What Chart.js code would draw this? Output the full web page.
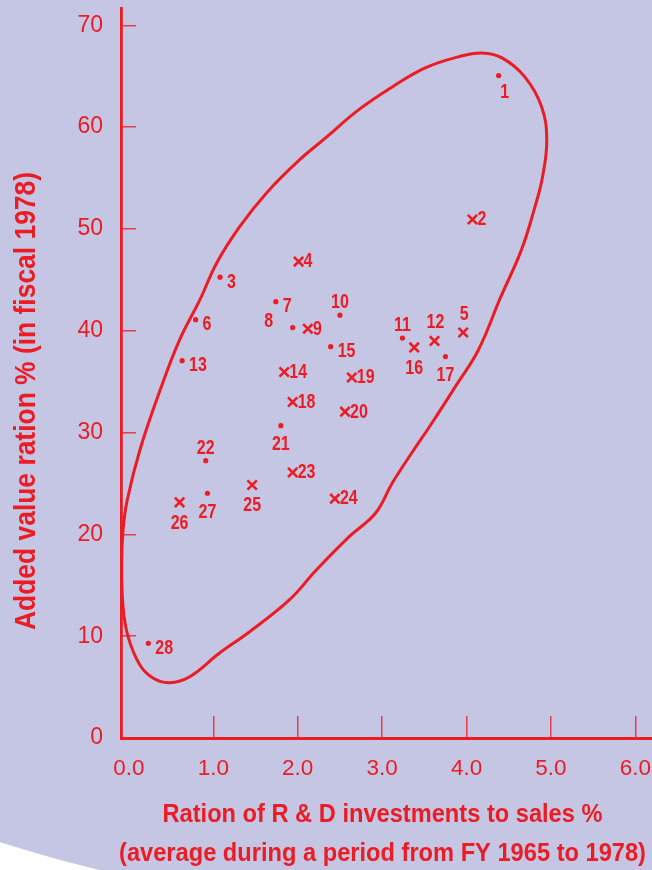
<!DOCTYPE html>
<html>
<head>
<meta charset="utf-8">
<script src="https://cdn.jsdelivr.net/npm/chart.js@4.4.1/dist/chart.umd.min.js"></script>
<style>
  html, body { margin: 0; padding: 0; width: 652px; height: 870px; overflow: hidden; }
  body {
    background: radial-gradient(circle 1402px at 428px -493px, #c5c6e3 0, #c5c6e3 1401.5px, #ffffff 1402.5px);
  }
  canvas { display: block; }
</style>
</head>
<body>
<canvas id="c" width="652" height="870"></canvas>
<script>
// ---------------- data ----------------
const X_TICKS = [0, 1, 2, 3, 4, 5, 6];
const X_TICK_LABELS = ['0.0', '1.0', '2.0', '3.0', '4.0', '5.0', '6.0'];
const Y_TICKS = [0, 10, 20, 30, 40, 50, 60, 70];
const Y_TICK_LABELS = ['0', '10', '20', '30', '40', '50', '60', '70'];

const X_TITLE = ['Ration of R & D investments to sales %', '(average during a period from FY 1965 to 1978)'];
const Y_TITLE = 'Added value ration % (in fiscal 1978)';

// companies marked with a dot
const DOT_LABELS = ['1', '3', '6', '7', '8', '10', '11', '13', '15', '17', '21', '22', '27', '28'];
const DOT_X = [4.38, 1.08, 0.79, 1.74, 1.94, 2.50, 3.24, 0.63, 2.39, 3.75, 1.80, 0.91, 0.93, 0.23];
const DOT_Y = [65.06, 45.26, 41.09, 42.86, 40.31, 41.53, 39.29, 37.06, 38.44, 37.46, 30.68, 27.24, 24.04, 9.30];

// companies marked with an x
const XM_LABELS = ['2', '4', '5', '9', '12', '14', '16', '18', '19', '20', '23', '24', '25', '26'];
const XM_X = [4.07, 2.01, 3.96, 2.12, 3.62, 1.84, 3.38, 1.94, 2.64, 2.56, 1.94, 2.44, 1.46, 0.60];
const XM_Y = [50.93, 46.79, 39.83, 40.20, 39.00, 35.95, 38.36, 33.00, 35.41, 32.05, 26.08, 23.51, 24.85, 23.15];

// enclosing loop (closed curve)
const LOOP_X = [4.18, 4.42, 4.69, 4.89, 4.95, 4.90, 4.81, 4.65, 4.40, 4.14, 3.88, 3.59, 3.35, 3.12,
                2.92, 2.61, 2.22, 1.90, 1.43, 1.07, 0.72, 0.48, 0.29, 0.13, -0.01, -0.07, -0.086, -0.07,
                -0.02, 0.13, 0.37, 0.60, 0.84, 1.04, 1.31, 1.63, 2.02, 2.33, 2.72, 3.12, 3.51, 3.90];
const LOOP_Y = [67.29, 66.80, 64.93, 61.98, 58.74, 55.11, 52.16, 47.94, 43.22, 38.11, 34.68, 30.94, 27.99, 25.05,
                22.07, 19.78, 16.50, 13.56, 10.44, 8.32, 6.02, 5.43, 5.86, 7.17, 9.95, 12.90, 17.16, 20.43,
                23.38, 28.29, 34.18, 39.10, 43.03, 46.66, 50.20, 53.54, 56.78, 58.94, 61.69, 63.95, 65.82, 66.90];

// label placement codes (style only)
const DOT_SIDE = ['br', 'r', 'r', 'r', 'lt', 't', 't', 'r', 'r', 'b', 'b', 't', 'b', 'r'];
const XM_SIDE = ['n', 'n', 't', 'n', 't', 'n', 'b', 'n', 'n', 'n', 'n', 'n', 'b', 'b'];

// ---------------- style ----------------
const RED = '#ec1c24';
const TICK_COLOR = 'rgba(236,28,36,0.8)';
const FONT = "'Liberation Sans', Arial, sans-serif";
const LABEL_SIZE = 20.5;
const LABEL_SQUEEZE = 0.78;

const DOT_OFFSETS = {
  r:  { dx: 7,   dy: 3,    align: 'left' },
  t:  { dx: 0,   dy: -14.5, align: 'center' },
  b:  { dx: 0,   dy: 17,   align: 'center' },
  br: { dx: 6,   dy: 15,   align: 'center' },
  lt: { dx: -24, dy: -8,   align: 'center' }
};
const XM_OFFSETS = {
  n: { dx: 5, dy: -1.5, align: 'left' },
  t: { dx: 1, dy: -20,  align: 'center' },
  b: { dx: 0, dy: 19,   align: 'center' }
};

const pts = (xs, ys) => xs.map((x, i) => ({ x: x, y: ys[i] }));
const loopPts = pts(LOOP_X, LOOP_Y);
const LN = loopPts.length;
const loopData = [loopPts[LN - 1], ...loopPts, loopPts[0], loopPts[1]];

const labelPlugin = {
  id: 'pointLabels',
  afterDatasetsDraw(chart) {
    const ctx = chart.ctx;
    ctx.save();
    ctx.fillStyle = RED;
    ctx.font = 'bold ' + LABEL_SIZE + 'px ' + FONT;
    ctx.textBaseline = 'alphabetic';
    const capHalf = 0.358 * LABEL_SIZE;
    const draw = (idx, labels, sides, offs) => {
      chart.getDatasetMeta(idx).data.forEach((p, i) => {
        const o = offs[sides[i]];
        const t = labels[i];
        const w = ctx.measureText(t).width * LABEL_SQUEEZE;
        let x = p.x + o.dx;
        ctx.textAlign = 'left';
        if (o.align === 'center') x -= w / 2;
        ctx.fillText(t, x, p.y + o.dy + capHalf, w);
      });
    };
    draw(1, DOT_LABELS, DOT_SIDE, DOT_OFFSETS);
    draw(2, XM_LABELS, XM_SIDE, XM_OFFSETS);
    ctx.restore();
  }
};

const titlePlugin = {
  id: 'axisTitles',
  afterDraw(chart) {
    const ctx = chart.ctx;
    const a = chart.chartArea;
    ctx.save();
    ctx.fillStyle = RED;
    ctx.textBaseline = 'alphabetic';
    ctx.textAlign = 'center';
    // x axis title (two lines)
    ctx.font = 'bold 26.5px ' + FONT;
    const cx = (a.left + a.right) / 2 - 4;
    ctx.fillText(X_TITLE[0], cx, a.bottom + 84, 440);
    ctx.fillText(X_TITLE[1], cx, a.bottom + 123, 527);
    // y axis title (rotated)
    ctx.translate(a.left - 86, a.top + 393);
    ctx.rotate(-Math.PI / 2);
    ctx.font = 'bold 30px ' + FONT;
    ctx.fillText(Y_TITLE, 0, 0, 458);
    ctx.restore();
  }
};

new Chart(document.getElementById('c'), {
  type: 'scatter',
  data: {
    datasets: [
      {
        type: 'line',
        data: loopData,
        borderColor: RED,
        borderWidth: 3,
        pointRadius: 0,
        tension: 0.4,
        fill: false,
        clip: false,
        segment: {
          borderColor: c => (c.p0DataIndex === 0 || c.p0DataIndex === LN + 1) ? 'rgba(0,0,0,0)' : undefined
        }
      },
      {
        data: pts(DOT_X, DOT_Y),
        pointStyle: 'circle',
        pointRadius: 2.6,
        backgroundColor: RED,
        borderWidth: 0
      },
      {
        data: pts(XM_X, XM_Y),
        pointStyle: 'crossRot',
        pointRadius: 6.6,
        borderColor: RED,
        borderWidth: 2.6
      }
    ]
  },
  options: {
    responsive: false,
    animation: false,
    devicePixelRatio: 1,
    layout: { autoPadding: false, padding: { top: 8, right: 0, bottom: 0, left: 0 } },
    plugins: { legend: { display: false }, tooltip: { enabled: false } },
    scales: {
      x: {
        type: 'linear',
        min: -0.094,
        max: 6.197,
        afterBuildTicks: s => { s.ticks = X_TICKS.map(v => ({ value: v })); },
        afterFit: s => { s.height = 132; s.paddingLeft = 0; s.paddingRight = 0; },
        ticks: {
          callback: (v, i) => X_TICK_LABELS[i],
          color: RED,
          font: { family: FONT, size: 22.5 },
          padding: 39,
          maxRotation: 0,
          autoSkip: false
        },
        grid: {
          drawOnChartArea: false,
          drawTicks: true,
          tickLength: -22,
          lineWidth: 1.5,
          color: c => (c.tick && c.tick.value === 0) ? 'rgba(0,0,0,0)' : TICK_COLOR
        },
        border: { color: RED, width: 3 }
      },
      y: {
        type: 'linear',
        min: 0,
        max: 71.7,
        afterBuildTicks: s => { s.ticks = Y_TICKS.map(v => ({ value: v })); },
        afterFit: s => { s.width = 121; s.paddingTop = 0; s.paddingBottom = 0; },
        ticks: {
          callback: (v, i) => Y_TICK_LABELS[i],
          color: RED,
          font: { family: FONT, size: 23 },
          padding: 33,
          autoSkip: false
        },
        grid: {
          drawOnChartArea: false,
          drawTicks: true,
          tickLength: -15,
          lineWidth: 1.5,
          color: c => (c.tick && c.tick.value === 0) ? 'rgba(0,0,0,0)' : TICK_COLOR
        },
        border: { color: RED, width: 2.8 }
      }
    }
  },
  plugins: [labelPlugin, titlePlugin]
});
</script>
</body>
</html>
